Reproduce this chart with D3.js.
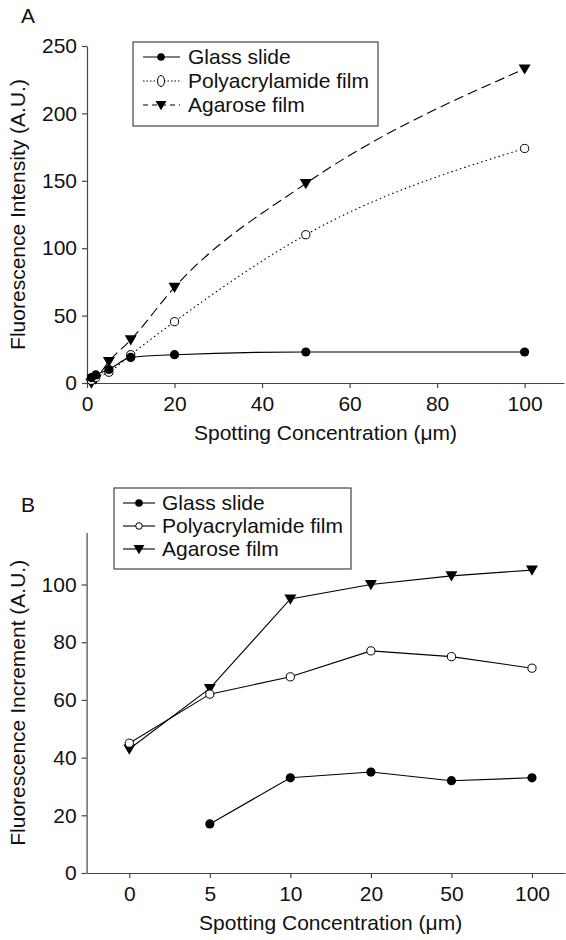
<!DOCTYPE html>
<html>
<head>
<meta charset="utf-8">
<script src="https://cdn.jsdelivr.net/npm/d3@7"></script>
<style>
  body { margin: 0; background: #fff; }
  text { font-family: "Liberation Sans", Arial, Helvetica, sans-serif; fill: #111; }
</style>
</head>
<body>
<div id="chart"></div>
<script>
// panel A data (concentration in um)
const concA = [1, 2, 5, 10, 20, 50, 100];
const glassA = [4, 6, 10, 19, 21, 23, 23];
const polyA = [2, 4, 8, 21, 45.5, 110, 174];
const agaroseA = [0, 3, 16, 32, 71, 148, 233];
const ticksA_x = [0, 20, 40, 60, 80, 100];
const ticksA_y = [0, 50, 100, 150, 200, 250];

// panel B data (categorical concentrations)
const concB = ['0', '5', '10', '20', '50', '100'];
const glassB = [null, 17, 33, 35, 32, 33];
const polyB = [45, 62, 68, 77, 75, 71];
const agaroseB = [43, 64, 95, 100, 103, 105];
const ticksB_y = [0, 20, 40, 60, 80, 100];

const seriesNames = ['Glass slide', 'Polyacrylamide film', 'Agarose film'];

const width = 566, height = 940;
const fs = 21;

const svg = d3.select('#chart').append('svg')
    .attr('width', width).attr('height', height);

// marker drawing
function marker(g, type, x, y, small) {
    const r = small ? 3.8 : 4.6;
    if (type == 'glass') {
        g.append('circle').attr('cx', x).attr('cy', y).attr('r', r).attr('fill', '#000');
    } else if (type == 'poly') {
        g.append('circle').attr('cx', x).attr('cy', y).attr('r', r - 0.5)
            .attr('fill', '#fff').attr('stroke', '#000').attr('stroke-width', 1);
    } else {
        const s = small ? 5.5 : 6;
        g.append('path')
            .attr('d', `M${x - s},${y - s * 0.75}L${x + s},${y - s * 0.75}L${x},${y + s * 0.95}Z`)
            .attr('fill', '#000');
    }
}

function styleAxis(g) {
    g.selectAll('path').attr('stroke', '#444').attr('stroke-width', 1.2);
    g.selectAll('line').attr('stroke', '#444').attr('stroke-width', 1.2);
    g.selectAll('text').attr('font-size', fs).attr('fill', '#111')
        .attr('font-family', '"Liberation Sans", Arial, sans-serif');
}

// ---------- Panel A ----------
const xA = d3.scaleLinear().domain([0, 109]).range([87, 564]);
const yA = d3.scaleLinear().domain([0, 250]).range([383, 46]);

const gA = svg.append('g');

gA.append('g').attr('transform', `translate(0,${yA(0)})`)
    .call(d3.axisBottom(xA).tickValues(ticksA_x).tickSize(5).tickSizeOuter(0).tickPadding(8))
    .call(styleAxis);
gA.append('g').attr('transform', `translate(${xA(0)},0)`)
    .call(d3.axisLeft(yA).tickValues(ticksA_y).tickSize(5).tickSizeOuter(0).tickPadding(5))
    .call(styleAxis);

const lineA = (vals) => d3.line()
    .x((d, i) => xA(concA[i]))
    .y((d) => yA(d))
    .curve(d3.curveMonotoneX)(vals);

const seriesA = [
    { key: 'agarose', vals: agaroseA, dash: '10,5' },
    { key: 'poly', vals: polyA, dash: '1.5,3' },
    { key: 'glass', vals: glassA, dash: null }
];
seriesA.forEach((s) => {
    gA.append('path').attr('d', lineA(s.vals)).attr('fill', 'none')
        .attr('stroke', '#000').attr('stroke-width', 1.1)
        .attr('stroke-dasharray', s.dash);
});
seriesA.forEach((s) => {
    s.vals.forEach((v, i) => marker(gA, s.key, xA(concA[i]), yA(v), false));
});

// legend A
const legA = gA.append('g');
legA.append('rect').attr('x', 133).attr('y', 42).attr('width', 245).attr('height', 84)
    .attr('fill', '#fff').attr('stroke', '#444').attr('stroke-width', 1.2);
const legKeysA = ['glass', 'poly', 'agarose'];
const legDashA = [null, '1.5,2', '5,4'];
seriesNames.forEach((name, i) => {
    const cy = 57 + i * 24;
    legA.append('line').attr('x1', 143).attr('x2', 180).attr('y1', cy).attr('y2', cy)
        .attr('stroke', '#000').attr('stroke-width', 1.1).attr('stroke-dasharray', legDashA[i]);
    if (legKeysA[i] == 'poly') {
        legA.append('ellipse').attr('cx', 161).attr('cy', cy).attr('rx', 3.5).attr('ry', 5.5)
            .attr('fill', '#fff').attr('stroke', '#000');
    } else {
        marker(legA, legKeysA[i], 161, cy, true);
    }
    legA.append('text').attr('x', 188).attr('y', cy + 7).attr('font-size', fs).text(name);
});

gA.append('text').attr('x', 21).attr('y', 23).attr('font-size', fs).text('A');
gA.append('text').attr('transform', `translate(25,${(yA(0) + yA(250)) / 2}) rotate(-90)`)
    .attr('text-anchor', 'middle').attr('font-size', fs).text('Fluorescence Intensity (A.U.)');
gA.append('text').attr('x', (xA(0) + 564) / 2).attr('y', 440)
    .attr('text-anchor', 'middle').attr('font-size', fs).text('Spotting Concentration (\u03bcm)');

// ---------- Panel B ----------
const xB = d3.scaleLinear().domain([-0.53, 5.41]).range([86.6, 565]);
const yB = d3.scaleLinear().domain([0, 118]).range([873, 532.6]);

const gB = svg.append('g');

gB.append('g').attr('transform', `translate(0,${yB(0)})`)
    .call(d3.axisBottom(xB).tickValues(d3.range(concB.length)).tickFormat((i) => concB[i])
        .tickSize(5).tickSizeOuter(0).tickPadding(8))
    .call(styleAxis);
gB.append('g').attr('transform', `translate(${xB(-0.53)},0)`)
    .call(d3.axisLeft(yB).tickValues(ticksB_y).tickSize(5).tickSizeOuter(0).tickPadding(5))
    .call(styleAxis);

const lineB = d3.line()
    .defined((d) => d != null)
    .x((d, i) => xB(i))
    .y((d) => yB(d));

const seriesB = [
    { key: 'agarose', vals: agaroseB },
    { key: 'poly', vals: polyB },
    { key: 'glass', vals: glassB }
];
seriesB.forEach((s) => {
    gB.append('path').attr('d', lineB(s.vals)).attr('fill', 'none')
        .attr('stroke', '#000').attr('stroke-width', 1.1);
});
seriesB.forEach((s) => {
    s.vals.forEach((v, i) => { if (v != null) marker(gB, s.key, xB(i), yB(v), false); });
});

// legend B
const legB = gB.append('g');
legB.append('rect').attr('x', 114).attr('y', 488).attr('width', 237).attr('height', 81)
    .attr('fill', '#fff').attr('stroke', '#444').attr('stroke-width', 1.2);
const legKeysB = ['glass', 'poly', 'agarose'];
seriesNames.forEach((name, i) => {
    const cy = 503 + i * 23;
    legB.append('line').attr('x1', 123).attr('x2', 155).attr('y1', cy).attr('y2', cy)
        .attr('stroke', '#000').attr('stroke-width', 1.1);
    marker(legB, legKeysB[i], 139, cy, true);
    legB.append('text').attr('x', 162).attr('y', cy + 7).attr('font-size', fs).text(name);
});

gB.append('text').attr('x', 21).attr('y', 512).attr('font-size', fs).text('B');
gB.append('text').attr('transform', `translate(25,${(yB(0) + yB(118)) / 2}) rotate(-90)`)
    .attr('text-anchor', 'middle').attr('font-size', fs).text('Fluorescence Increment (A.U.)');
gB.append('text').attr('x', (xB(0) + xB(5)) / 2).attr('y', 930)
    .attr('text-anchor', 'middle').attr('font-size', fs).text('Spotting Concentration (\u03bcm)');
</script>
</body>
</html>
